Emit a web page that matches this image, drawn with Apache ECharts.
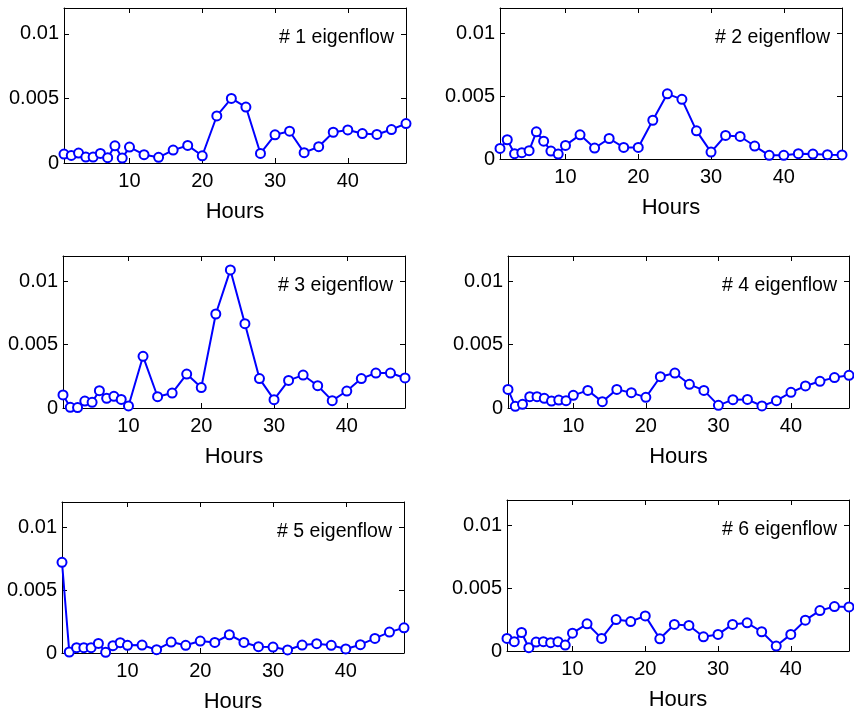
<!DOCTYPE html>
<html>
<head>
<meta charset="utf-8">
<script src="https://cdn.jsdelivr.net/npm/echarts@6/dist/echarts.min.js"></script>
<style>
  html, body { margin: 0; padding: 0; background: #fff; }
  #chart { width: 854px; height: 716px; }
</style>
</head>
<body>
<div id="chart"></div>
<script>
// ---- Data ----
const hours = [1, 2, 3, 4, 5, 6, 7, 8, 9, 10, 12, 14, 16, 18, 20, 22, 24, 26, 28, 30, 32, 34, 36, 38, 40, 42, 44, 46, 48];
const xTicks = [10, 20, 30, 40];
const yTicks = [0, 0.005, 0.01];
const labels = ['# 1 eigenflow', '# 2 eigenflow', '# 3 eigenflow', '# 4 eigenflow', '# 5 eigenflow', '# 6 eigenflow'];
const axisTitle = 'Hours';

const flow1 = [0.00069, 0.00059, 0.00077, 0.00046, 0.00046, 0.00074, 0.00041, 0.00133, 0.00038, 0.00123,
               0.00064, 0.00044, 0.00100, 0.00136, 0.00056, 0.00364, 0.00500, 0.00433, 0.00074, 0.00218,
               0.00246, 0.00080, 0.00126, 0.00238, 0.00256, 0.00228, 0.00221, 0.00259, 0.00305];
const flow2 = [0.00084, 0.00153, 0.00042, 0.00050, 0.00066, 0.00216, 0.00142, 0.00063, 0.00039, 0.00108,
               0.00192, 0.00087, 0.00163, 0.00092, 0.00092, 0.00308, 0.00518, 0.00474, 0.00224, 0.00055,
               0.00187, 0.00179, 0.00103, 0.00029, 0.00029, 0.00042, 0.00039, 0.00034, 0.00032];
const flow3 = [0.00103, 0.00005, 0.00003, 0.00055, 0.00045, 0.00137, 0.00076, 0.00092, 0.00068, 0.00016,
               0.00408, 0.00089, 0.00118, 0.00268, 0.00161, 0.00742, 0.01090, 0.00666, 0.00232, 0.00066,
               0.00218, 0.00260, 0.00176, 0.00058, 0.00134, 0.00232, 0.00276, 0.00276, 0.00237];
const flow4 = [0.00147, 0.00013, 0.00029, 0.00089, 0.00089, 0.00076, 0.00055, 0.00063, 0.00058, 0.00100,
               0.00139, 0.00050, 0.00147, 0.00121, 0.00084, 0.00247, 0.00276, 0.00187, 0.00139, 0.00021,
               0.00066, 0.00068, 0.00016, 0.00058, 0.00124, 0.00174, 0.00211, 0.00240, 0.00258];
const flow5 = [0.00721, 0.00008, 0.00042, 0.00042, 0.00042, 0.00076, 0.00005, 0.00058, 0.00082, 0.00061,
               0.00063, 0.00026, 0.00087, 0.00061, 0.00095, 0.00084, 0.00145, 0.00084, 0.00050, 0.00047,
               0.00024, 0.00063, 0.00074, 0.00061, 0.00032, 0.00066, 0.00116, 0.00166, 0.00200];
const flow6 = [0.00100, 0.00074, 0.00147, 0.00026, 0.00071, 0.00074, 0.00066, 0.00074, 0.00047, 0.00142,
               0.00216, 0.00100, 0.00250, 0.00234, 0.00279, 0.00097, 0.00211, 0.00203, 0.00113, 0.00132,
               0.00211, 0.00224, 0.00153, 0.00039, 0.00132, 0.00245, 0.00321, 0.00353, 0.00350];
const flows = [flow1, flow2, flow3, flow4, flow5, flow6];

// ---- Layout (pixel boxes of each panel) ----
const boxes = [
  { left: 64,  top: 8,   width: 342, height: 155 },
  { left: 500, top: 8,   width: 342, height: 151 },
  { left: 63,  top: 256, width: 342, height: 152 },
  { left: 508, top: 256, width: 341, height: 152 },
  { left: 62,  top: 502, width: 342, height: 151 },
  { left: 507, top: 500, width: 342, height: 151 }
];

const FONT = '"Liberation Sans", Arial, Helvetica, sans-serif';
const BLUE = '#0000ff';
const INK = '#000000';

const grid = [], xAxis = [], yAxis = [], series = [], graphic = [];

boxes.forEach((b, i) => {
  grid.push({ left: b.left, top: b.top, width: b.width, height: b.height, containLabel: false });

  const lineStyle = { color: INK, width: 1 };
  // bottom x axis
  xAxis.push({
    type: 'value', gridIndex: i, min: 1, max: 48, position: 'bottom',
    axisLine: { show: true, onZero: false, lineStyle },
    axisTick: { show: true, inside: true, length: 5, customValues: xTicks, lineStyle },
    axisLabel: { show: true, customValues: xTicks, fontSize: 20, fontFamily: FONT, color: INK, margin: 8 },
    splitLine: { show: false },
    name: axisTitle, nameLocation: 'middle', nameGap: 38,
    nameTextStyle: { fontSize: 22, fontFamily: FONT, color: INK }
  });
  // top mirror x axis
  xAxis.push({
    type: 'value', gridIndex: i, min: 1, max: 48, position: 'top',
    axisLine: { show: true, onZero: false, lineStyle },
    axisTick: { show: true, inside: true, length: 5, customValues: xTicks, lineStyle },
    axisLabel: { show: false },
    splitLine: { show: false }
  });
  // left y axis
  yAxis.push({
    type: 'value', gridIndex: i, min: 0, max: 0.012, position: 'left',
    axisLine: { show: true, onZero: false, lineStyle },
    axisTick: { show: true, inside: true, length: 5, customValues: yTicks, lineStyle },
    axisLabel: { show: true, customValues: yTicks, fontSize: 20, fontFamily: FONT, color: INK, margin: 5,
                 formatter: v => String(v) },
    splitLine: { show: false }
  });
  // right mirror y axis
  yAxis.push({
    type: 'value', gridIndex: i, min: 0, max: 0.012, position: 'right',
    axisLine: { show: true, onZero: false, lineStyle },
    axisTick: { show: true, inside: true, length: 5, customValues: yTicks, lineStyle },
    axisLabel: { show: false },
    splitLine: { show: false }
  });

  series.push({
    type: 'line',
    xAxisIndex: 2 * i, yAxisIndex: 2 * i,
    data: hours.map((h, k) => [h, flows[i][k]]),
    symbol: 'emptyCircle', symbolSize: 9,
    lineStyle: { color: BLUE, width: 2 },
    itemStyle: { color: BLUE, borderColor: BLUE, borderWidth: 2 },
    emphasis: { disabled: true },
    clip: false
  });

  graphic.push({
    type: 'text',
    x: b.left + b.width - 12,
    y: b.top + 30,
    style: {
      text: labels[i], font: '19.5px ' + FONT, fill: INK,
      align: 'right', verticalAlign: 'middle', textAlign: 'right', textVerticalAlign: 'middle'
    },
    z: 10
  });
});

const chart = echarts.init(document.getElementById('chart'), null, { renderer: 'canvas' });
chart.setOption({
  animation: false,
  backgroundColor: '#ffffff',
  grid, xAxis, yAxis, series, graphic
});
</script>
</body>
</html>
